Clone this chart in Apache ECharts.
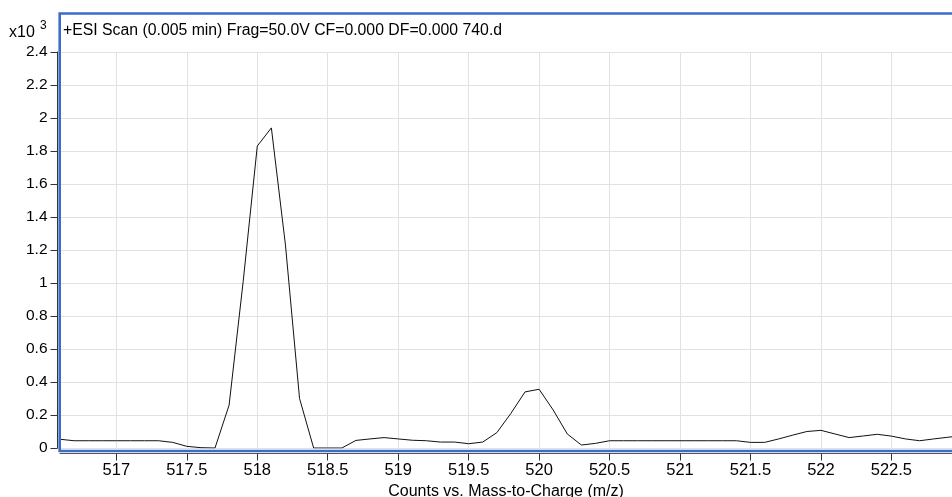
<!DOCTYPE html>
<html>
<head>
<meta charset="utf-8">
<script src="https://cdn.jsdelivr.net/npm/echarts@6/dist/echarts.min.js"></script>
<style>
	html, body {margin: 0; padding: 0; background: #fff;}
	#chart {width: 952px; height: 497px;}
</style>
</head>
<body>
<div id="chart"></div>
<script>
	// m/z of each scan point
	var mz = [
		516.6, 516.7, 516.8, 516.9, 517.0, 517.1, 517.2, 517.3, 517.4, 517.5,
		517.6, 517.7, 517.8, 517.9, 518.0, 518.1, 518.2, 518.3, 518.4, 518.5,
		518.6, 518.7, 518.8, 518.9, 519.0, 519.1, 519.2, 519.3, 519.4, 519.5,
		519.6, 519.7, 519.8, 519.9, 520.0, 520.1, 520.2, 520.3, 520.4, 520.5,
		520.6, 520.7, 520.8, 520.9, 521.0, 521.1, 521.2, 521.3, 521.4, 521.5,
		521.6, 521.7, 521.8, 521.9, 522.0, 522.1, 522.2, 522.3, 522.4, 522.5,
		522.6, 522.7, 522.8, 522.9, 523.0
	];
	// counts (x10^3)
	var counts = [
		0.053, 0.044, 0.044, 0.044, 0.044, 0.044, 0.044, 0.044, 0.034, 0.010,
		0.002, 0.000, 0.26, 1.01, 1.83, 1.94, 1.23, 0.30, 0.000, 0.000,
		0.000, 0.046, 0.055, 0.063, 0.055, 0.047, 0.044, 0.036, 0.036, 0.026,
		0.036, 0.093, 0.21, 0.34, 0.356, 0.23, 0.085, 0.018, 0.028, 0.044,
		0.044, 0.044, 0.044, 0.044, 0.044, 0.044, 0.044, 0.044, 0.044, 0.034,
		0.034, 0.055, 0.078, 0.100, 0.107, 0.085, 0.063, 0.073, 0.083, 0.072,
		0.055, 0.044, 0.055, 0.065, 0.075
	];
	var xTicks = [517, 517.5, 518, 518.5, 519, 519.5, 520, 520.5, 521, 521.5, 522, 522.5];
	var titleText = '+ESI Scan (0.005 min) Frag=50.0V CF=0.000 DF=0.000 740.d';
	var xName = 'Counts vs. Mass-to-Charge (m/z)';

	var font = '"Liberation Sans", Arial, Helvetica, sans-serif';
	var frameColor = '#3a6cc8';

	var chart = echarts.init(document.getElementById('chart'));
	chart.setOption({
		animation: false,
		textStyle: {fontFamily: font},
		title: {
			text: titleText,
			left: 63,
			top: 23,
			padding: 0,
			textStyle: {fontSize: 15.8, fontWeight: 'normal', color: '#000', fontFamily: font}
		},
		grid: {left: 60, right: 0, top: 52, bottom: 49, outerBoundsMode: 'none', containLabel: false},
		xAxis: {
			type: 'value',
			min: 516.6,
			max: 522.93,
			offset: 5.5,
			name: xName,
			nameLocation: 'middle',
			nameGap: 27,
			nameTextStyle: {fontSize: 16, color: '#000', fontFamily: font},
			axisLine: {onZero: false, lineStyle: {color: '#555', width: 1}},
			axisTick: {length: 7, lineStyle: {color: '#333'}, customValues: xTicks},
			axisLabel: {
				fontSize: 16.5,
				color: '#000',
				margin: 8,
				customValues: xTicks,
				fontFamily: font
			},
			splitLine: {show: true, lineStyle: {color: '#e2e2e2', width: 1}}
		},
		yAxis: {
			type: 'value',
			min: 0,
			max: 2.4,
			interval: 0.2,
			offset: 2.5,
			axisLine: {show: true, onZero: false, lineStyle: {color: '#333', width: 1}},
			axisTick: {show: true, length: 7, lineStyle: {color: '#333'}},
			axisLabel: {fontSize: 15.5, color: '#000', margin: 10, fontFamily: font},
			splitLine: {show: true, lineStyle: {color: '#e2e2e2', width: 1}}
		},
		series: [{
			type: 'line',
			data: mz.map(function(v, i){ return [v, counts[i]]; }),
			showSymbol: false,
			symbol: 'none',
			lineStyle: {color: '#111', width: 1},
			clip: true,
			z: 3
		}],
		graphic: [
			{
				type: 'rect',
				z: 10,
				silent: true,
				shape: {x: 59.7, y: 13.5, width: 900, height: 437.5},
				style: {fill: 'none', stroke: frameColor, lineWidth: 2.6}
			},
			{
				type: 'text',
				left: 9,
				top: 25,
				silent: true,
				style: {text: 'x10', fontSize: 16, fill: '#000', fontFamily: font}
			},
			{
				type: 'text',
				left: 40,
				top: 20,
				silent: true,
				style: {text: '3', fontSize: 12, fill: '#000', fontFamily: font}
			}
		]
	});
</script>
</body>
</html>
